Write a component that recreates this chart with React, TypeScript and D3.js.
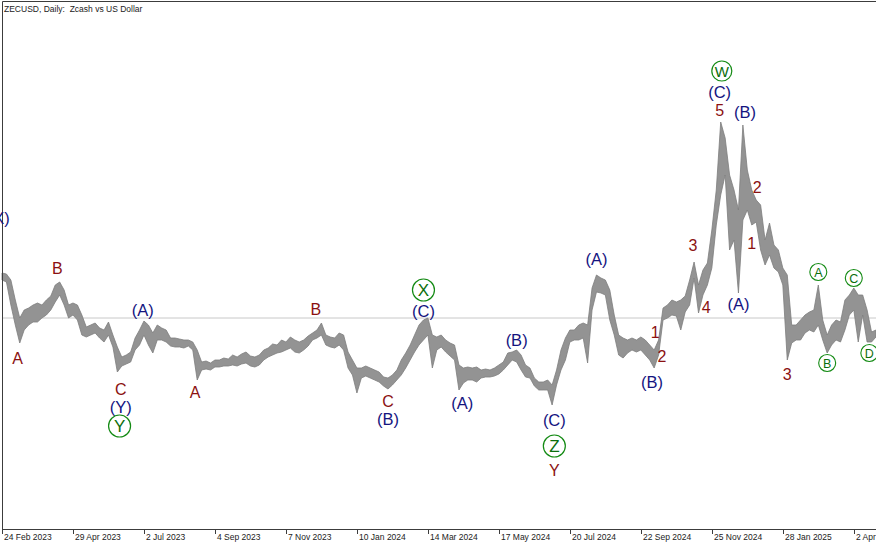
import React from "react";
import * as d3 from "d3";

// ZECUSD daily, sampled every 4 days from 24 Feb 2023 (high / low of each slot, USD)
const startDate = "2023-02-24";
const stepDays = 4;

const highs = [
  45.4, 45.2, 44.0, 40.0, 36.4, 38.0, 38.4, 39.0, 39.4, 39.0,
  40.0, 40.8, 43.0, 43.6, 42.0, 39.0, 39.4, 39.0, 37.0, 34.6,
  35.0, 35.4, 34.4, 34.0, 35.6, 33.0, 30.6, 28.6, 29.0, 29.6,
  32.4, 34.0, 35.8, 35.0, 33.4, 35.0, 34.4, 34.0, 32.4, 32.4,
  32.2, 32.0, 32.0, 31.6, 30.0, 27.6, 27.8, 27.4, 28.0, 28.0,
  28.4, 28.2, 29.0, 28.6, 29.2, 29.6, 28.8, 28.6, 29.0, 30.0,
  30.4, 31.2, 31.0, 32.0, 31.6, 32.6, 32.0, 31.6, 32.0, 32.8,
  33.4, 34.0, 35.4, 33.0, 32.6, 32.4, 33.4, 33.0, 29.6, 28.0,
  26.4, 26.4, 26.8, 26.4, 26.0, 25.6, 24.6, 24.4, 25.0, 26.0,
  28.0, 29.4, 31.0, 33.0, 35.0, 36.0, 36.4, 33.0, 32.6, 33.0,
  32.0, 31.4, 31.0, 27.0, 26.4, 26.6, 26.4, 26.6, 26.0, 26.2,
  26.0, 26.4, 27.0, 27.6, 29.4, 29.6, 30.0, 29.0, 27.0, 26.4,
  24.4, 23.6, 23.6, 24.0, 23.0, 26.0, 30.0, 32.4, 34.0, 34.0,
  35.0, 35.4, 35.0, 42.4, 45.0, 44.4, 44.0, 42.0, 37.0, 33.0,
  32.4, 32.0, 32.4, 32.0, 32.6, 32.0, 31.0, 30.0, 32.0, 38.4,
  39.0, 40.0, 39.6, 40.0, 40.8, 44.0, 47.6, 43.0, 46.0, 47.4,
  54.0, 62.0, 75.6, 72.4, 65.0, 62.0, 58.0, 75.0, 66.0, 62.0,
  60.0, 59.0, 52.0, 55.4, 51.0, 50.0, 46.4, 45.0, 35.0, 35.0,
  36.0, 37.0, 37.6, 38.0, 43.0, 36.0, 33.0, 35.0, 36.0, 35.6,
  40.0, 41.0, 42.4, 41.0, 41.0, 38.0, 33.6, 34.0,
];

const lows = [
  44.0, 43.6, 39.0, 35.0, 31.4, 34.0, 35.0, 35.6, 35.6, 36.4,
  37.0, 38.0, 39.6, 41.0, 39.0, 36.4, 37.0, 36.0, 33.0, 32.6,
  33.0, 33.4, 32.4, 31.6, 33.0, 30.6, 25.6, 26.8, 27.2, 27.6,
  30.0, 31.0, 33.0, 31.0, 29.4, 32.0, 32.0, 31.6, 30.8, 30.6,
  30.6, 30.4, 30.8, 30.0, 24.0, 26.0, 26.2, 26.0, 26.6, 26.6,
  26.8, 26.8, 27.0, 26.8, 27.2, 27.4, 26.8, 26.6, 27.0, 28.0,
  28.6, 29.0, 29.4, 29.6, 30.0, 30.4, 29.6, 29.4, 30.0, 30.8,
  32.0, 32.4, 33.0, 31.0, 30.6, 30.4, 31.0, 30.0, 26.4, 25.0,
  21.4, 24.4, 24.8, 24.4, 24.0, 23.6, 22.8, 22.2, 23.0, 24.0,
  25.0, 26.4, 28.0, 29.6, 31.0, 32.0, 33.0, 26.4, 30.0, 30.6,
  29.6, 28.8, 28.0, 22.0, 23.4, 24.0, 24.0, 23.6, 24.4, 24.6,
  24.6, 24.8, 25.2, 26.0, 27.0, 28.0, 27.6, 26.0, 24.6, 24.4,
  22.8, 22.0, 22.0, 22.0, 19.0, 23.0, 26.0, 28.0, 31.6, 32.0,
  32.0, 32.4, 27.4, 38.0, 41.6, 41.4, 41.0, 36.0, 33.0, 29.0,
  28.4, 29.4, 30.0, 29.6, 30.0, 29.0, 28.0, 26.4, 29.0, 36.0,
  36.4, 37.0, 36.8, 34.0, 37.6, 39.0, 44.4, 37.4, 41.0, 43.0,
  46.4, 55.0, 61.0, 65.0, 50.0, 52.0, 41.4, 56.0, 58.0, 55.0,
  55.6, 50.0, 47.0, 49.0, 46.4, 45.6, 43.0, 28.0, 31.4, 32.0,
  32.0, 33.4, 34.0, 33.6, 35.0, 32.0, 29.4, 31.0, 32.0, 31.6,
  34.0, 37.0, 38.0, 31.6, 37.0, 31.6, 31.6, 32.6,
];

const priceLine = 36.4;

const tickLabels = [
  "24 Feb 2023", "29 Apr 2023", "2 Jul 2023", "4 Sep 2023", "7 Nov 2023",
  "10 Jan 2024", "14 Mar 2024", "17 May 2024", "20 Jul 2024", "22 Sep 2024",
  "25 Nov 2024", "28 Jan 2025", "2 Apr 2025",
];

// wave labels: [text, date, price]
const minorLabels: [string, string, number][] = [
  ["A", "2023-03-10", 28.4],
  ["B", "2023-04-15", 46.4],
  ["C", "2023-06-11", 22.2],
  ["A", "2023-08-17", 21.6],
  ["B", "2023-12-04", 38.2],
  ["C", "2024-02-07", 19.8],
  ["Y", "2024-07-06", 6.0],
  ["1", "2024-10-05", 33.6],
  ["2", "2024-10-11", 28.8],
  ["3", "2024-11-08", 51.0],
  ["4", "2024-11-20", 38.6],
  ["5", "2024-12-02", 78.0],
  ["1", "2024-12-31", 51.4],
  ["2", "2025-01-05", 62.6],
  ["3", "2025-02-01", 25.2],
];

const intermediateLabels: [string, string, number][] = [
  ["(X)", "2023-02-21", 56.4],
  ["(Y)", "2023-06-11", 18.6],
  ["(A)", "2023-07-01", 38.0],
  ["(B)", "2024-02-07", 16.2],
  ["(C)", "2024-03-10", 37.8],
  ["(A)", "2024-04-14", 19.4],
  ["(B)", "2024-06-02", 32.0],
  ["(C)", "2024-07-06", 16.0],
  ["(A)", "2024-08-13", 48.2],
  ["(B)", "2024-10-02", 23.6],
  ["(C)", "2024-12-02", 81.6],
  ["(A)", "2024-12-19", 39.2],
  ["(B)", "2024-12-25", 77.6],
];

const primaryLabels: [string, string, number][] = [
  ["Y", "2023-06-10", 14.8],
  ["X", "2024-03-10", 42.0],
  ["Z", "2024-07-06", 10.8],
  ["W", "2024-12-04", 85.8],
];

const minuteLabels: [string, string, number][] = [
  ["A", "2025-03-01", 45.6],
  ["B", "2025-03-09", 27.4],
  ["C", "2025-04-02", 44.4],
  ["D", "2025-04-16", 29.4],
];

const W = 876;
const H = 545;
const FONT = "'Liberation Sans', Arial, sans-serif";

export default function App() {
  const parseIso = d3.utcParse("%Y-%m-%d");
  const parseTick = d3.utcParse("%e %b %Y");
  const t0 = parseIso(startDate) as Date;
  const tickDates = tickLabels.map((s) => parseTick(s) as Date);

  const x = d3
    .scaleUtc()
    .domain([tickDates[0], tickDates[tickDates.length - 1]])
    .range([2, 853.8]);
  const y = d3.scaleLinear().domain([0, 100]).range([500, 0]);

  const dates = highs.map((_, i) => d3.utcDay.offset(t0, i * stepDays));

  const band = d3
    .area<number>()
    .x((_, i) => x(dates[i]))
    .y0((_, i) => y(lows[i]))
    .y1((d) => y(d));

  const pos = (d: string, p: number) => [x(parseIso(d) as Date), y(p)];

  return (
    <svg
      width={W}
      height={H}
      style={{ position: "absolute", left: 0, top: 0, background: "#fff" }}
      fontFamily={FONT}
    >
      {/* reference price level */}
      <line x1={2} x2={W} y1={y(priceLine)} y2={y(priceLine)} stroke="#c8c8c8" strokeWidth={1} />

      {/* price bars */}
      <path d={band(highs) || ""} fill="#939393" stroke="#7e7e7e" strokeWidth={0.8} strokeLinejoin="round" />

      {/* frame */}
      <path d={`M2.5,529.5 V1.5 H${W}`} fill="none" stroke="#3c3c3c" strokeWidth={1} />
      <line x1={2} x2={W} y1={529.5} y2={529.5} stroke="#3c3c3c" strokeWidth={1} />

      {/* time axis */}
      {tickDates.map((d, i) => (
        <g key={i} transform={`translate(${Math.round(x(d)) + 0.5},0)`}>
          <line y1={529} y2={534} stroke="#3c3c3c" />
          <text x={1.5} y={540} fontSize={8.5} fill="#222">
            {tickLabels[i]}
          </text>
        </g>
      ))}

      <text x={4} y={12} fontSize={8.5} fill="#222" style={{ whiteSpace: "pre" }}>
        {"ZECUSD, Daily:  Zcash vs US Dollar"}
      </text>

      {/* wave labels */}
      {minorLabels.map(([t, d, p], i) => {
        const [cx, cy] = pos(d, p);
        return (
          <text key={"m" + i} x={cx} y={cy} fontSize={16} fill="#8b1111" textAnchor="middle" dominantBaseline="central">
            {t}
          </text>
        );
      })}
      {intermediateLabels.map(([t, d, p], i) => {
        const [cx, cy] = pos(d, p);
        return (
          <text key={"i" + i} x={cx} y={cy} fontSize={16.5} fill="#14147f" textAnchor="middle" dominantBaseline="central">
            {t}
          </text>
        );
      })}
      {primaryLabels.map(([t, d, p], i) => {
        const [cx, cy] = pos(d, p);
        const r = t === "W" ? 10 : 11;
        return (
          <g key={"p" + i} transform={`translate(${cx},${cy})`}>
            <circle r={r} fill="#fff" stroke="#138a13" strokeWidth={1.2} />
            <text y={0.5} fontSize={t === "W" ? 15 : 17} fill="#0c6e0c" textAnchor="middle" dominantBaseline="central">
              {t}
            </text>
          </g>
        );
      })}
      {minuteLabels.map(([t, d, p], i) => {
        const [cx, cy] = pos(d, p);
        return (
          <g key={"n" + i} transform={`translate(${cx},${cy})`}>
            <circle r={8.5} fill="#fff" stroke="#138a13" strokeWidth={1.1} />
            <text y={0.5} fontSize={12.5} fill="#0c6e0c" textAnchor="middle" dominantBaseline="central">
              {t}
            </text>
          </g>
        );
      })}
    </svg>
  );
}
